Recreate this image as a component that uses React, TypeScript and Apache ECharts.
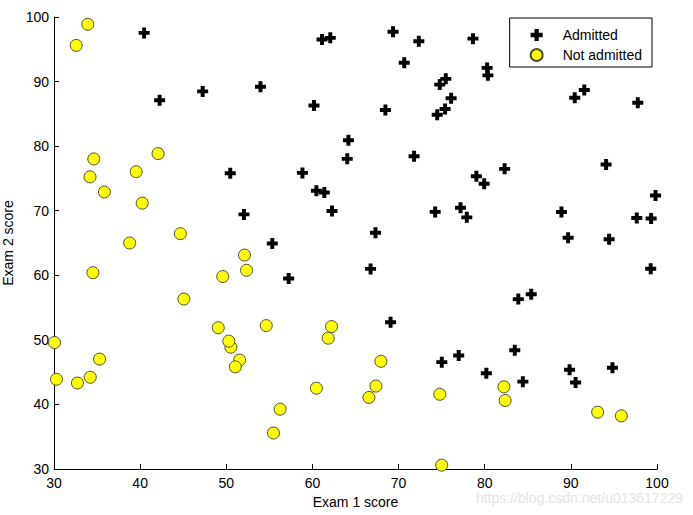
import React, { useEffect, useRef } from "react";
import * as echarts from "echarts";

const admittedExam1 = [60.18, 79.03, 61.11, 75.02, 76.1, 84.43, 82.31, 69.36, 53.97, 69.07, 70.66, 76.98, 89.68, 77.92, 62.27, 80.19, 61.38, 85.4, 52.05, 64.18, 83.9, 94.44, 77.19, 97.77, 62.07, 91.56, 79.94, 99.27, 90.55, 97.65, 74.25, 71.8, 75.4, 40.46, 80.28, 66.75, 64.04, 72.35, 60.46, 58.84, 99.83, 47.26, 50.46, 88.91, 94.83, 67.32, 57.24, 80.37, 68.47, 75.48, 78.64, 94.09, 90.45, 74.49, 89.85, 83.49, 42.26, 99.32, 55.34, 74.78];
const admittedExam2 = [86.31, 75.34, 96.51, 46.55, 87.42, 43.53, 76.48, 97.72, 89.21, 52.74, 92.93, 47.58, 65.8, 68.97, 69.95, 44.82, 72.81, 57.05, 69.43, 80.91, 56.31, 65.57, 70.46, 86.73, 96.77, 88.7, 74.16, 61.0, 43.39, 68.86, 69.82, 78.45, 85.76, 97.54, 92.12, 60.99, 78.03, 96.23, 73.09, 75.86, 72.37, 88.48, 75.81, 69.8, 45.69, 66.59, 59.51, 90.96, 85.59, 90.42, 96.65, 77.16, 87.51, 84.85, 45.36, 48.38, 87.1, 68.78, 64.93, 89.53];

const notAdmittedExam1 = [34.62, 30.29, 35.85, 45.08, 95.86, 75.01, 39.54, 67.95, 67.37, 50.53, 34.21, 93.11, 61.83, 38.79, 52.11, 40.24, 54.64, 33.92, 74.79, 34.18, 51.55, 82.37, 51.05, 62.22, 34.52, 50.29, 49.59, 32.58, 35.29, 56.25, 30.06, 44.67, 66.56, 49.07, 32.72, 60.46, 82.23, 42.08, 52.35, 55.48];
const notAdmittedExam2 = [78.02, 43.89, 72.9, 56.32, 38.23, 30.6, 76.04, 46.68, 42.84, 48.86, 44.21, 38.8, 50.26, 65.0, 63.13, 71.17, 52.21, 98.87, 41.57, 75.24, 46.86, 40.62, 45.82, 52.06, 60.4, 49.8, 59.81, 95.6, 47.02, 39.26, 49.59, 66.45, 41.09, 51.88, 43.31, 42.51, 42.72, 78.84, 60.77, 35.57];

const seriesNames = ["Admitted", "Not admitted"];
const xAxisTitle = "Exam 1 score";
const yAxisTitle = "Exam 2 score";
const watermark = "https://blog.csdn.net/u013617229";

const FONT = "'Liberation Sans', Arial, sans-serif";
const PLUS = "path://M3.2,0H6.8V3.2H10V6.8H6.8V10H3.2V6.8H0V3.2H3.2Z";

export default function App() {
  const ref = useRef<HTMLDivElement>(null);
  useEffect(() => {
    if (!ref.current) return;
    const chart = echarts.init(ref.current, undefined, { renderer: "svg" });
    const admitted = admittedExam1.map((x, i) => [x, admittedExam2[i]]);
    const rejected = notAdmittedExam1.map((x, i) => [x, notAdmittedExam2[i]]);
    const axisCommon = {
      min: 30,
      max: 100,
      interval: 10,
      nameLocation: "middle" as const,
      nameTextStyle: { color: "#000", fontSize: 14, fontFamily: FONT },
      axisLine: { show: true, lineStyle: { color: "#000", width: 1 } },
      axisTick: { show: true, inside: true, length: 5, lineStyle: { color: "#000" } },
      axisLabel: { color: "#000", fontSize: 14, fontFamily: FONT },
      splitLine: { show: false },
    };
    chart.setOption({
      animation: false,
      backgroundColor: "#fff",
      grid: { left: 54, right: 36, top: 17, bottom: 46, containLabel: false, outerBoundsMode: "none" },
      xAxis: {
        ...axisCommon,
        type: "value",
        name: xAxisTitle,
        nameGap: 21,
        axisLabel: { ...axisCommon.axisLabel, margin: 7 },
      },
      yAxis: {
        ...axisCommon,
        type: "value",
        name: yAxisTitle,
        nameGap: 34,
        axisLabel: { ...axisCommon.axisLabel, margin: 5 },
      },
      legend: {
        orient: "vertical",
        right: 41,
        top: 18,
        backgroundColor: "#fff",
        borderColor: "#000",
        borderWidth: 1,
        borderRadius: 0,
        padding: [10, 10, 5, 20],
        itemWidth: 42,
        itemHeight: 12,
        itemGap: 6,
        textStyle: { color: "#000", fontSize: 14, fontFamily: FONT },
        data: seriesNames,
      },
      series: [
        {
          name: seriesNames[0],
          type: "scatter",
          symbol: PLUS,
          symbolSize: 11,
          itemStyle: { color: "#000", opacity: 1 },
          data: admitted,
        },
        {
          name: seriesNames[1],
          type: "scatter",
          symbol: "circle",
          symbolSize: 12,
          itemStyle: { color: "#ffff00", borderColor: "#4d4d33", borderWidth: 1, opacity: 1 },
          data: rejected,
        },
      ],
      graphic: [
        {
          type: "text",
          right: 10,
          top: 491,
          style: { text: watermark, fill: "#e3e3e3", fontSize: 14, fontFamily: FONT },
        },
      ],
    });
    return () => chart.dispose();
  }, []);
  return <div ref={ref} style={{ width: 693, height: 515, position: "absolute", left: 0, top: 0 }} />;
}
